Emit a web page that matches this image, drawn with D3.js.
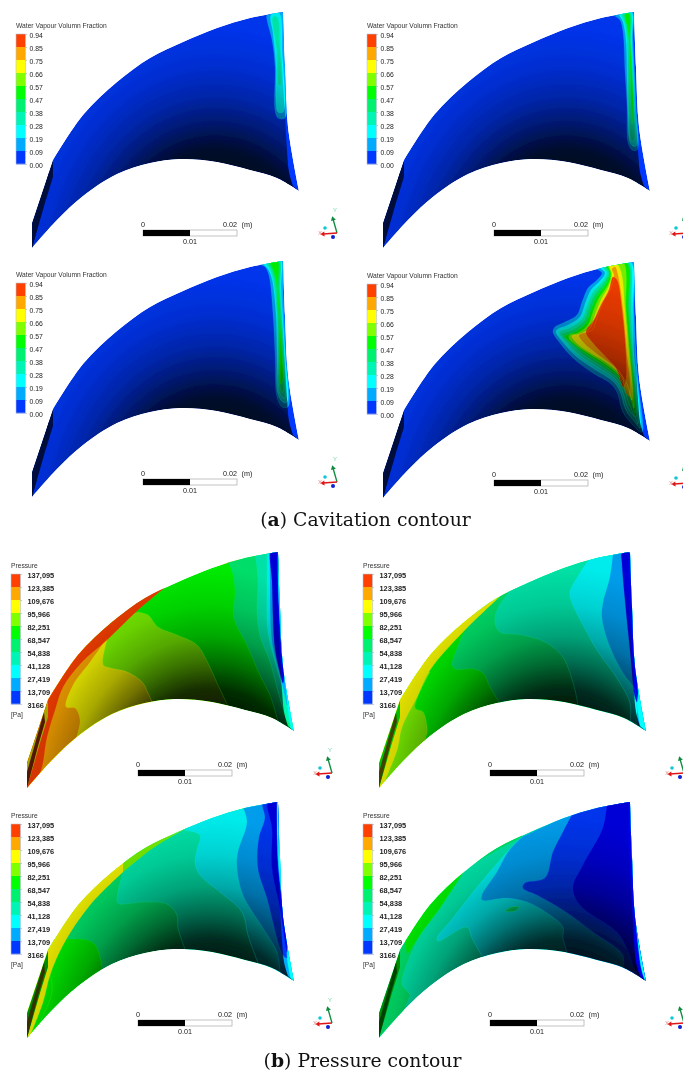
<!DOCTYPE html>
<html>
<head>
<meta charset="utf-8">
<script src="https://cdn.jsdelivr.net/npm/d3@7"></script>
<style>
  html, body { margin: 0; padding: 0; background: #fff; }
  svg { display: block; }
  text { font-family: "Liberation Sans", Arial, sans-serif; fill: #222; }
</style>
</head>
<body>
<div id="chart"></div>
<script>
// legend contents
const levelColors = ["#ff4000", "#ffa800", "#ffff00", "#80ff00", "#00ff00", "#00f070", "#00f5b5", "#00ffff", "#00aaff", "#0038ff", "#0000e8"];
const vapourLabels = ["0.94", "0.85", "0.75", "0.66", "0.57", "0.47", "0.38", "0.28", "0.19", "0.09", "0.00"];
const pressureLabels = ["137,095", "123,385", "109,676", "95,966", "82,251", "68,547", "54,838", "41,128", "27,419", "13,709", "3166"];

// blade outline, in blade units
const bladeUpper = [[32, 248], [32, 223], [53, 160], [83, 115], [117, 82], [150, 58], [183, 42], [217, 28], [250, 18], [283, 12]];
const bladeRight = [[283, 12], [285, 67], [288, 127], [299, 191]];
const bladeLower = [[299, 191], [277, 178], [250, 170], [217, 162], [180, 159], [150, 163], [117, 174], [83, 196], [57, 220], [32, 248]];
const shadeRight = [[281, 11], [282, 60], [285, 115], [287, 150], [289, 172], [293, 186]];
const frontOuter = [[32, 248], [32, 223], [53, 160], [53, 177], [45, 203]];
const frontInner = [[32, 248], [32, 232], [49, 172], [50, 182], [43, 206]];

// contour regions: [level, points, points that close it outside the blade]
const panel1 = [
  [8, [[267, 15], [282, 12], [284, 50], [285, 118], [278, 118], [275, 110], [275, 67], [272, 40], [267, 20]]],
  [7, [[271, 15], [279, 13], [282, 50], [283, 112], [278, 112], [276, 100], [276, 67], [273, 33]]],
  [6, [[273, 17], [277, 17], [280, 50], [281, 85], [279, 85], [277, 50]]]
];
const panel2 = [
  [8, [[262, 14], [269, 20], [272, 32], [274, 72], [276, 105], [277, 142], [281, 150], [286, 150], [285, 105], [282, 38], [281, 11]]],
  [7, [[268, 13], [272, 22], [275, 40], [276, 80], [277, 115], [279, 142], [282, 146], [285, 146], [284, 105], [281, 40], [280, 11]]],
  [6, [[271, 13], [274, 24], [276, 40], [277, 80], [278, 118], [280, 140], [283, 141], [283, 105], [280, 40], [279, 12]]],
  [4, [[274, 14], [277, 30], [279, 60], [280, 100], [281, 124], [282, 100], [279, 40], [278, 14]]]
];
const panel3 = [
  [8, [[257, 14], [265, 18], [269, 27], [273, 65], [275, 105], [277, 148], [282, 158], [288, 158], [286, 105], [283, 38], [282, 10]]],
  [7, [[262, 13], [268, 20], [272, 30], [276, 65], [277, 105], [278, 145], [283, 153], [287, 153], [285, 105], [281, 40], [280, 10]]],
  [6, [[265, 12], [270, 20], [273, 30], [277, 65], [278, 105], [280, 145], [284, 149], [285, 149], [284, 105], [280, 40], [279, 10]]],
  [5, [[268, 12], [272, 20], [275, 30], [278, 65], [279, 105], [281, 142], [283, 143], [283, 105], [279, 40], [278, 11]]],
  [4, [[270, 12], [273, 20], [276, 30], [279, 65], [280, 105], [281, 135], [283, 130], [282, 105], [278, 40], [277, 11]]]
];
const panel4 = [
  [8, [[244, 17], [251, 23], [246, 30], [237, 38], [231, 52], [226, 65], [212, 73], [204, 77], [202, 82], [209, 93], [222, 108], [242, 123], [259, 133], [266, 142], [272, 162], [282, 175], [291, 182], [288, 140], [285, 105], [283, 60], [281, 10]]],
  [7, [[248, 16], [254, 23], [249, 31], [240, 40], [234, 54], [229, 67], [215, 76], [207, 79], [205, 82], [212, 92], [225, 106], [245, 120], [262, 131], [269, 141], [275, 160], [284, 172], [289, 178], [287, 140], [283, 105], [282, 60], [279, 11]]],
  [6, [[251, 15], [256, 23], [251, 32], [242, 42], [236, 56], [231, 69], [218, 78], [210, 81], [208, 83], [215, 92], [228, 105], [248, 118], [264, 129], [271, 140], [277, 158], [285, 169], [287, 174], [285, 140], [282, 105], [280, 60], [277, 12]]],
  [5, [[253, 14], [258, 23], [253, 33], [244, 44], [238, 58], [233, 71], [221, 80], [213, 83], [211, 85], [218, 92], [231, 104], [251, 117], [266, 128], [273, 139], [279, 156], [285, 167], [284, 140], [281, 105], [278, 60], [276, 12]]],
  [4, [[255, 14], [259, 23], [255, 34], [246, 46], [240, 60], [235, 73], [224, 82], [216, 85], [214, 87], [221, 93], [234, 103], [254, 116], [268, 127], [275, 138], [281, 153], [284, 163], [283, 140], [280, 105], [277, 60], [275, 12]]],
  [3, [[257, 14], [260, 24], [257, 35], [248, 48], [242, 62], [237, 75], [227, 83], [219, 85], [218, 88], [224, 94], [237, 103], [256, 115], [269, 126], [276, 137], [281, 150], [283, 158], [282, 140], [279, 105], [275, 60], [272, 12]]],
  [2, [[258, 14], [261, 24], [258, 36], [250, 50], [244, 65], [239, 78], [229, 84], [221, 86], [227, 94], [240, 103], [258, 114], [270, 125], [277, 136], [280, 148], [281, 150], [281, 135], [278, 105], [274, 60], [270, 22], [265, 13]]],
  [1, [[261, 19], [263, 25], [260, 38], [252, 52], [246, 68], [241, 80], [228, 85], [233, 93], [246, 104], [260, 114], [271, 125], [274, 140], [278, 146], [279, 130], [276, 105], [272, 60], [267, 25], [264, 17]]],
  [0, [[262, 27], [258, 40], [250, 55], [243, 70], [235, 82], [242, 93], [255, 107], [265, 118], [270, 132], [272, 137], [275, 130], [275, 105], [271, 60], [266, 30]]]
];
const panel5 = [
  [3, [[143, 72], [153, 75], [163, 87], [182, 95], [202, 105], [213, 123], [222, 143], [232, 164]], [[232, 200], [20, 260], [20, 100]]],
  [2, [[112, 100], [108, 125], [115, 128], [132, 132], [147, 142], [153, 153], [157, 162]], [[157, 200], [20, 260], [20, 100]]],
  [1, [[112, 98], [95, 122], [78, 145], [71, 167], [80, 168], [85, 180], [83, 192]], [[60, 260], [10, 260], [10, 130]]],
  [1, [[245, 19], [232, 23], [205, 30], [177, 43]], [[177, 0], [245, 0]]],
  [0, [[177, 42], [143, 70], [112, 100], [87, 122], [68, 147], [60, 170], [52, 197], [45, 233], [33, 248]], [[10, 260], [10, 60], [170, 10]]],
  [5, [[232, 21], [237, 31], [240, 51], [239, 78], [252, 105], [265, 135], [275, 155], [283, 181]], [[283, 200], [320, 200], [320, 0], [232, 0]]],
  [6, [[260, 13], [263, 41], [262, 68], [265, 95], [275, 121], [283, 151], [292, 181]], [[320, 200], [320, 0], [260, 0]]],
  [7, [[272, 10], [272, 41], [273, 91], [280, 121], [288, 148], [295, 175]], [[320, 200], [320, 0], [272, 0]]],
  [8, [[275, 8], [275, 41], [277, 101], [285, 135], [292, 165]], [[320, 200], [320, 0], [275, 0]]],
  [10, [[276, 10], [277, 41], [280, 108], [285, 133], [288, 143], [289, 135], [287, 115], [283, 41], [283, 10]]],
  [7, [[283, 10], [283, 41], [287, 115], [290, 140], [293, 170], [296, 190]], [[320, 200], [320, 0], [283, 0]]],
  [4, [[283, 10], [285, 60], [289, 120], [295, 165], [299, 190]], [[320, 200], [320, 0], [283, 0]]],
  [3, [[284, 10], [286, 60], [290, 120], [297, 165], [300, 190]], [[320, 200], [320, 0], [284, 0]]]
];
const panel6 = [
  [3, [[83, 132], [68, 168], [76, 172], [80, 187], [80, 194]], [[60, 260], [10, 260], [10, 130]]],
  [5, [[117, 92], [105, 125], [108, 129], [126, 129], [136, 133], [143, 147], [152, 162]], [[152, 200], [320, 200], [320, 0], [170, 0]]],
  [6, [[161, 53], [150, 70], [148, 83], [153, 92], [176, 95], [200, 103], [216, 117], [223, 133], [228, 150], [231, 165]], [[231, 200], [320, 200], [320, 0], [161, 0]]],
  [7, [[241, 21], [233, 33], [223, 52], [225, 63], [235, 83], [250, 110], [270, 138], [283, 163], [283, 183]], [[283, 200], [320, 200], [320, 0], [241, 0]]],
  [8, [[266, 15], [263, 37], [256, 63], [255, 78], [263, 107], [276, 133], [288, 150], [290, 167]], [[290, 200], [320, 200], [320, 0], [266, 0]]],
  [10, [[275, 13], [275, 23], [278, 60], [283, 110], [288, 157], [290, 162], [291, 153], [286, 77], [283, 13]]],
  [7, [[283, 10], [286, 77], [291, 153], [290, 165], [294, 190]], [[320, 200], [320, 0], [283, 0]]],
  [6, [[284, 10], [288, 70], [292, 140], [296, 170], [301, 191]], [[320, 200], [320, 0], [284, 0]]],
  [3, [[245, 18], [210, 28], [180, 40], [161, 52]], [[161, 0], [245, 0]]],
  [2, [[161, 49], [116, 92], [83, 130], [70, 157], [55, 187], [50, 210], [35, 247]], [[10, 260], [10, 60], [161, 0]]]
];
const panel7 = [
  [3, [[55, 182], [57, 202], [45, 232]], [[40, 250], [10, 250], [10, 180]]],
  [4, [[83, 149], [95, 151], [102, 158], [107, 177]], [[60, 260], [10, 260], [10, 150]]],
  [6, [[128, 82], [122, 112], [125, 114], [148, 112], [172, 114], [182, 125], [183, 138], [190, 159]], [[190, 200], [320, 200], [320, 0], [128, 0]]],
  [7, [[188, 40], [205, 45], [202, 60], [200, 73], [205, 85], [225, 102], [247, 122], [253, 145], [263, 173]], [[263, 200], [320, 200], [320, 0], [188, 0]]],
  [8, [[248, 17], [252, 32], [243, 62], [242, 77], [248, 105], [268, 138], [282, 162], [285, 182]], [[285, 200], [320, 200], [320, 0], [248, 0]]],
  [9, [[268, 13], [270, 28], [264, 48], [263, 78], [272, 108], [288, 165], [292, 168], [292, 152], [283, 72], [282, 11]]],
  [10, [[273, 13], [277, 38], [277, 78], [285, 118], [292, 162], [292, 152], [283, 72], [282, 11]]],
  [7, [[282, 8], [283, 72], [292, 152], [292, 168], [296, 190]], [[320, 200], [320, 0], [282, 0]]],
  [4, [[250, 18], [218, 26], [195, 36], [188, 40]], [[188, 0], [250, 0]]],
  [3, [[195, 36], [188, 40], [158, 58], [128, 82]], [[128, 0], [195, 0]]],
  [2, [[128, 82], [95, 115], [68, 155], [55, 185], [48, 212], [35, 246]], [[10, 260], [10, 60], [128, 0]]]
];
const panel8 = [
  [5, [[175, 47], [116, 83], [93, 118], [73, 145], [56, 185], [55, 195], [63, 205], [61, 210]], [[40, 260], [10, 260], [10, 60], [116, 0], [175, 0]]],
  [4, [[116, 83], [93, 118], [73, 145], [60, 165]], [[58, 150], [10, 150], [10, 60], [116, 0]]],
  [7, [[175, 47], [160, 62], [126, 102], [106, 128], [90, 148], [91, 151], [120, 137], [125, 148], [135, 166]], [[135, 200], [320, 200], [320, 0], [250, 0], [226, 23]]],
  [5, [[158, 121], [165, 117], [172, 117], [168, 121]]],
  [8, [[175, 47], [161, 62], [150, 82], [135, 105], [135, 110], [160, 108], [180, 112], [203, 125], [216, 137], [216, 148], [220, 162]], [[220, 200], [320, 200], [320, 0], [240, 0], [226, 23]]],
  [9, [[226, 23], [216, 42], [206, 62], [198, 88], [178, 93], [176, 98], [190, 105], [216, 120], [246, 142], [276, 165], [276, 178]], [[276, 200], [320, 200], [320, 0], [240, 0]]],
  [10, [[260, 15], [256, 38], [236, 75], [226, 98], [233, 115], [270, 142], [280, 158], [286, 175]], [[300, 200], [320, 0], [260, 0]]],
  [7, [[283, 11], [286, 88], [291, 155], [295, 182], [300, 195]], [[320, 200], [320, 0], [283, 0]]]
];

// panel table, built from the arrays above
const panels = [
  { ox: 0, oy: 0, base: 9, regions: panel1, labels: vapourLabels, title: "Water Vapour Volumn Fraction", front: [9, 0.72, 9, 0.78] },
  { ox: 351, oy: 0, base: 9, regions: panel2, labels: vapourLabels, title: "Water Vapour Volumn Fraction", front: [9, 0.72, 9, 0.78] },
  { ox: 0, oy: 249, base: 9, regions: panel3, labels: vapourLabels, title: "Water Vapour Volumn Fraction", front: [9, 0.72, 9, 0.78] },
  { ox: 351, oy: 250, base: 9, regions: panel4, labels: vapourLabels, title: "Water Vapour Volumn Fraction", front: [9, 0.72, 9, 0.78] },
  { ox: -5, oy: 540, base: 4, regions: panel5, labels: pressureLabels, title: "Pressure", unit: "[Pa]", front: [2, 0.35, 0, 0.68] },
  { ox: 347, oy: 540, base: 4, regions: panel6, labels: pressureLabels, title: "Pressure", unit: "[Pa]", front: [4, 0.25, 2, 0.75] },
  { ox: -5, oy: 790, base: 5, regions: panel7, labels: pressureLabels, title: "Pressure", unit: "[Pa]", front: [4, 0.45, 2, 0.8] },
  { ox: 347, oy: 790, base: 6, regions: panel8, labels: pressureLabels, title: "Pressure", unit: "[Pa]", front: [4, 0.45, 4, 0.75] }
];

const width = 683, height = 1077;
const svg = d3.select("#chart").append("svg").attr("width", width).attr("height", height);
const defs = svg.append("defs");
defs.append("filter").attr("id", "soft")
  .attr("x", 0).attr("y", 0).attr("width", 1).attr("height", 1)
  .append("feGaussianBlur").attr("stdDeviation", 0.45);

const root = svg.append("g").attr("filter", "url(#soft)");

panels.forEach((p, idx) => {
  const x = d3.scaleLinear().domain([0, 320]).range([p.ox, p.ox + 320]);
  const y = d3.scaleLinear().domain([0, 260]).range([p.oy, p.oy + 260]);
  const g = root.append("g");

  const smooth = d3.line().x(d => x(d[0])).y(d => y(d[1])).curve(d3.curveCatmullRom.alpha(0.5));
  const loop = d3.line().x(d => x(d[0])).y(d => y(d[1])).curve(d3.curveCatmullRomClosed.alpha(0.5));
  const straight = d3.line().x(d => x(d[0])).y(d => y(d[1]));

  const bladePath = [
    straight(bladeUpper.slice(0, 3)),
    smooth(bladeUpper.slice(2)).replace(/^M/, "L"),
    smooth(bladeRight).replace(/^M/, "L"),
    smooth(bladeLower).replace(/^M/, "L"),
    "Z"
  ].join("");

  defs.append("clipPath").attr("id", "blade" + idx).append("path").attr("d", bladePath);

  const shadeId = "shade" + idx;
  const shade = defs.append("radialGradient").attr("id", shadeId)
    .attr("gradientUnits", "userSpaceOnUse")
    .attr("cx", 0).attr("cy", 0).attr("r", 1)
    .attr("gradientTransform", `translate(${x(215)},${y(290)}) scale(205,262)`);
  [[0.46, 0.9], [0.54, 0.82], [0.64, 0.56], [0.74, 0.34], [0.86, 0.18], [1, 0.08]].forEach(s => {
    shade.append("stop").attr("offset", s[0]).attr("stop-color", "#000").attr("stop-opacity", s[1]);
  });

  const blade = g.append("g").attr("clip-path", `url(#blade${idx})`);
  blade.append("path").attr("d", bladePath).attr("fill", levelColors[p.base]);

  const regionPath = r => r[2]
    ? smooth(r[1]) + r[2].map(c => `L${x(c[0])},${y(c[1])}`).join("") + "Z"
    : loop(r[1]);

  blade.selectAll("path.region")
    .data(p.regions)
    .join("path")
    .attr("class", "region")
    .attr("d", regionPath)
    .attr("fill", d => levelColors[d[0]]);

  // darkening towards the hub, the right edge stays bright
  const upperPart = straight(bladeUpper.slice(0, 3)) + smooth(bladeUpper.slice(2)).replace(/^M/, "L");
  blade.append("path")
    .attr("d", upperPart + smooth(shadeRight).replace(/^M/, "L") + smooth(bladeLower).replace(/^M/, "L") + "Z")
    .attr("fill", `url(#${shadeId})`);

  blade.selectAll("path.contourLine")
    .data(p.regions)
    .join("path")
    .attr("class", "contourLine")
    .attr("d", d => d[2] ? smooth(d[1]) : loop(d[1]))
    .attr("fill", "none")
    .attr("stroke", d => levelColors[d[0]])
    .attr("stroke-opacity", 0.3)
    .attr("stroke-width", 0.6);

  const dark = (lvl, amount) => d3.interpolateRgb(levelColors[lvl], "#000")(amount);
  blade.append("path").attr("d", straight(frontOuter) + "Z").attr("fill", dark(p.front[0], p.front[1]));
  blade.append("path").attr("d", straight(frontInner) + "Z").attr("fill", dark(p.front[2], p.front[3]));

  // colour legend
  const bar = d3.scaleLinear().domain([0, 10]).range([y(34), y(164)]);
  g.append("g").selectAll("rect")
    .data(d3.range(10))
    .join("rect")
    .attr("x", x(16)).attr("width", 9.5)
    .attr("y", d => bar(d)).attr("height", bar(1) - bar(0) + 0.3)
    .attr("fill", d => levelColors[d]);
  g.append("rect")
    .attr("x", x(16)).attr("y", bar(0)).attr("width", 9.5).attr("height", bar(10) - bar(0))
    .attr("fill", "none").attr("stroke", "#b8c4d8").attr("stroke-width", 0.6);

  const isPressure = p.labels === pressureLabels;
  const axis = d3.axisRight(bar).tickValues(d3.range(11)).tickFormat(i => p.labels[i])
    .tickSize(1.5).tickPadding(isPressure ? 5.5 : 2.5);
  const ax = g.append("g").attr("transform", `translate(${x(25.5)},0)`).call(axis);
  ax.select(".domain").remove();
  ax.selectAll("line").attr("stroke", "#999").attr("stroke-width", 0.5);
  ax.selectAll("text")
    .attr("dy", "0.32em").attr("transform", "translate(0,1)")
    .style("font-size", isPressure ? "7.4px" : "6.8px")
    .style("font-weight", isPressure ? "bold" : "normal");

  g.append("text").attr("x", x(16)).attr("y", y(28.4)).style("font-size", "6.7px").style("fill", "#333").text(p.title);
  if (p.unit) g.append("text").attr("x", x(16)).attr("y", y(176.5)).style("font-size", "6.7px").style("fill", "#333").text(p.unit);

  // length scale
  const metres = d3.scaleLinear().domain([0, 0.02]).range([x(143), x(237)]);
  g.append("rect").attr("x", metres(0)).attr("y", y(230)).attr("width", metres(0.02) - metres(0)).attr("height", 6)
    .attr("fill", "#fff").attr("stroke", "#aaa").attr("stroke-width", 0.7);
  g.append("rect").attr("x", metres(0)).attr("y", y(230)).attr("width", metres(0.01) - metres(0)).attr("height", 6).attr("fill", "#000");
  const scaleText = (tx, ty, s, anchor) => g.append("text").attr("x", tx).attr("y", ty).attr("text-anchor", anchor)
    .style("font-size", "7.2px").text(s);
  scaleText(metres(0), y(226.5), "0", "middle");
  scaleText(metres(0.02), y(226.5), "0.02", "end");
  scaleText(metres(0.02) + 4.5, y(226.5), "(m)", "start");
  scaleText(metres(0.01), y(244), "0.01", "middle");

  // orientation triad
  const arrow = (x2, y2, colour) => {
    g.append("line").attr("x1", x(337)).attr("y1", y(233)).attr("x2", x(x2)).attr("y2", y(y2))
      .attr("stroke", colour).attr("stroke-width", 1.3);
    g.append("path").attr("d", d3.symbol(d3.symbolTriangle, 11)())
      .attr("transform", `translate(${x(x2)},${y(y2)}) rotate(${Math.atan2(y2 - 233, x2 - 337) * 180 / Math.PI + 90})`)
      .attr("fill", colour);
  };
  arrow(333, 219, "#0a8a3a");
  arrow(323, 234, "#e01818");
  g.append("circle").attr("cx", x(325)).attr("cy", y(228)).attr("r", 1.8).attr("fill", "#10c8d8");
  g.append("circle").attr("cx", x(333)).attr("cy", y(237)).attr("r", 2).attr("fill", "#1020d0");
  // the right hand column runs off the page, only what fits gets a letter
  if (x(335) < width - 4) {
    g.append("text").attr("x", x(335)).attr("y", y(212)).attr("text-anchor", "middle")
      .style("font-size", "6px").style("fill", "#70d8a0").text("Y");
  }
  g.append("text").attr("x", x(320)).attr("y", y(235)).attr("text-anchor", "middle")
    .style("font-size", "6px").style("fill", "#e89090").text("X");
});

// captions
const captions = [
  { y: 526, key: "a", rest: " Cavitation contour" },
  { y: 1067, key: "b", rest: " Pressure contour" }
];
const cap = svg.selectAll("text.caption").data(captions).join("text")
  .attr("class", "caption")
  .attr("x", (d, i) => i ? 362.5 : 365.5)
  .attr("y", d => d.y)
  .attr("text-anchor", "middle")
  .style("font-family", "'DejaVu Serif', serif")
  .style("font-size", "18.8px")
  .style("fill", "#111");
cap.append("tspan").text("(");
cap.append("tspan").style("font-weight", "bold").text(d => d.key);
cap.append("tspan").text(d => ")" + d.rest);
</script>
</body>
</html>
